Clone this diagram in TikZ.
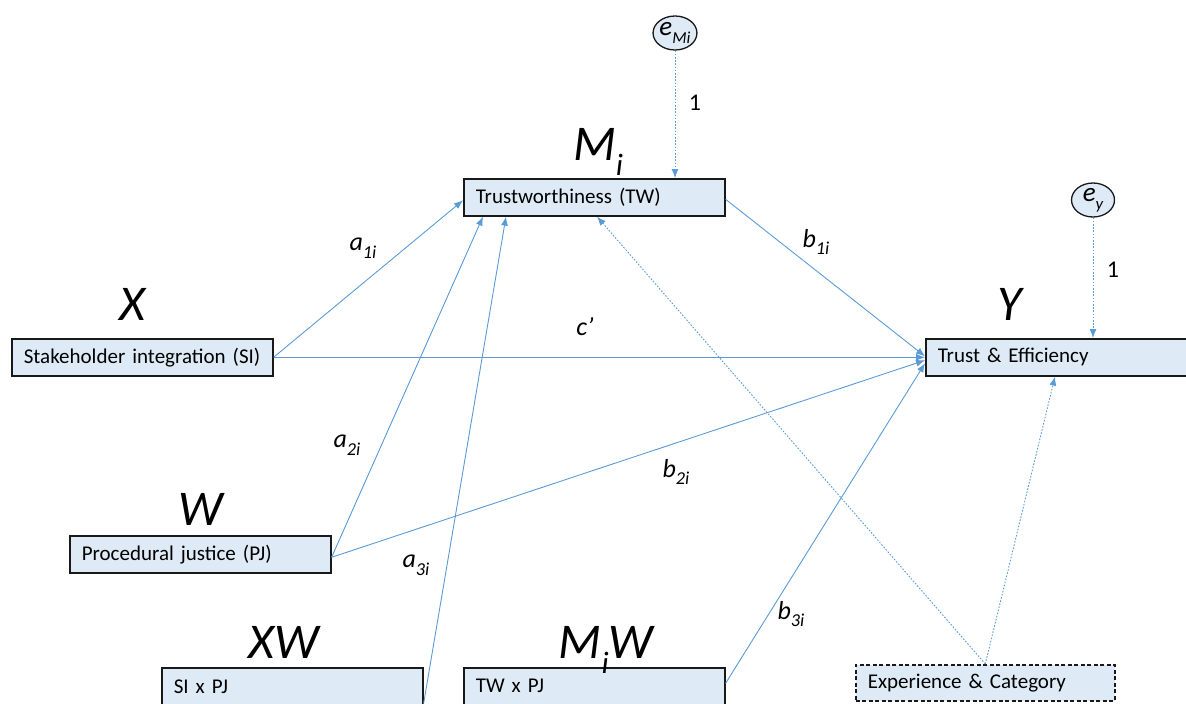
\documentclass[tikz,border=0pt]{standalone}
\usepackage{fontspec}
\setmainfont{Carlito}
\usetikzlibrary{arrows.meta,shapes.geometric,calc}
\definecolor{linkblue}{HTML}{5B9BD5}
\definecolor{boxfill}{HTML}{DEEBF7}
% lowered, reduced subscript in the current text font
\newcommand\lowsub[1]{\raisebox{-0.3em}{\scalebox{0.62}{#1}}}
\newcommand\pathsub[1]{\raisebox{-0.3em}{\scalebox{0.7}{#1}}}

\begin{document}
\begin{tikzpicture}[x=1pt,y=-1pt,
  varbox/.style={draw=black!90, line width=1.6pt, fill=boxfill, anchor=north west,
    text width=237pt, inner xsep=12pt, inner ysep=0pt, minimum height=37pt,
    align=left, font=\fontsize{21}{24}\selectfont},
  ctrlbox/.style={varbox, dash pattern=on 4pt off 2.5pt, minimum height=36pt, text width=235pt},
  errnode/.style={ellipse, draw=black!90, line width=1.3pt, fill=boxfill,
    minimum width=43pt, minimum height=34pt, inner sep=0pt, font=\fontsize{27}{30}\selectfont\itshape},
  biglabel/.style={anchor=base, inner sep=0pt, font=\fontsize{50}{60}\selectfont\itshape},
  pathlabel/.style={inner sep=0pt, font=\fontsize{26}{30}\selectfont\itshape},
  onelabel/.style={inner sep=0pt, font=\fontsize{24}{28}\selectfont},
  link/.style={draw=linkblue, line width=0.9pt, -{Latex[length=9pt,width=7pt]}},
  dotlink/.style={link, dash pattern=on 1.6pt off 1.6pt},
]
\useasboundingbox (0,0) rectangle (1186,704);

% variables
\node[varbox] (tw) at (463,178) {Trustworthiness (TW)};
\node[varbox] (y) at (925,338) {Trust \& Efficiency};
\node[varbox] (si) at (11,338) {Stakeholder integration (SI)};
\node[varbox] (pj) at (69,535) {Procedural justice (PJ)};
\node[varbox] (sipj) at (161,667) {SI x PJ};
\node[varbox] (twpj) at (463,667) {TW x PJ};
\node[ctrlbox] (exp) at (855,664) {Experience \& Category};

% error terms
\node[errnode] (emi) at (675,33) {e\lowsub{Mi}};
\node[errnode] (ey) at (1093,200) {e\lowsub{y}};

% role labels
\node[biglabel] (lx) at (132,320) {X};
\node[biglabel] (lm) at (598,160) {M\lowsub{i}};
\node[biglabel] (ly) at (1010,320) {Y};
\node[biglabel] (lw) at (201,525) {W};
\node[biglabel] (lxw) at (284,658) {XW};
\node[biglabel] (lmw) at (606,658) {M\lowsub{i}W};

% paths
\draw[link] (si.east) -- ([yshift=-3pt]tw.west);
\draw[link] (si.east) -- (y.west);
\draw[link] ([yshift=-3pt]pj.east) -- ([xshift=20pt]tw.south west);
\draw[link] ([yshift=2pt]sipj.south east) -- ([xshift=43pt]tw.south west);
\draw[link] ([yshift=-3pt]pj.east) -- ([yshift=-3pt]y.west);
\draw[link] ([yshift=-2pt]tw.east) -- ([yshift=1pt]y.west);
\draw[link] ([yshift=3pt]twpj.east) -- ([yshift=-6pt]y.west);
\draw[dotlink] (exp.north) -- ([xshift=134pt]tw.south west);
\draw[dotlink] (exp.north) -- ([xshift=130pt]y.south west);
\draw[dotlink] (emi.south) -- (emi.south |- tw.north);
\draw[dotlink] (ey.south) -- (ey.south |- y.north);

% path labels
\node[pathlabel] (la1) at (363,248) {a\pathsub{1i}};
\node[pathlabel] (lc) at (585,327) {c’};
\node[pathlabel] (la2) at (347,445) {a\pathsub{2i}};
\node[pathlabel] (la3) at (416,565) {a\pathsub{3i}};
\node[pathlabel] (lb1) at (816,242) {b\pathsub{1i}};
\node[pathlabel] (lb2) at (676,472) {b\pathsub{2i}};
\node[pathlabel] (lb3) at (791,614) {b\pathsub{3i}};
\node[onelabel] (l1m) at (695,103) {1};
\node[onelabel] (l1y) at (1113,270) {1};
\end{tikzpicture}
\end{document}
